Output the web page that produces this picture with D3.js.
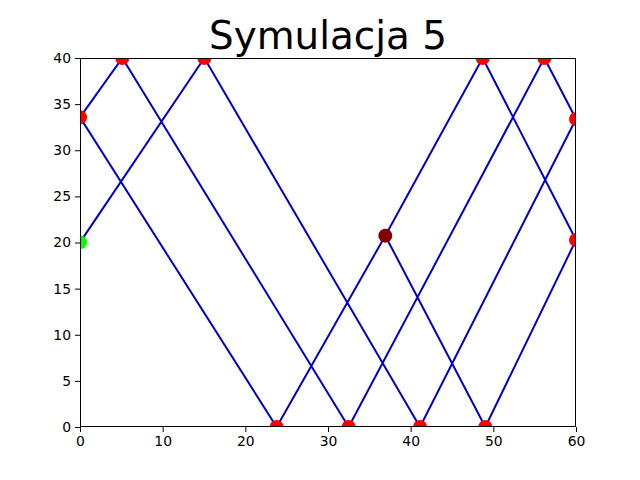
<!DOCTYPE html>
<html>
<head>
<meta charset="utf-8">
<script src="https://cdn.jsdelivr.net/npm/d3@7"></script>
<style>
body { margin: 0; background: #fff; }
svg { display: block; }
text { font-family: "DejaVu Sans", sans-serif; }
</style>
</head>
<body>
<script>
// Path of the ball (x, y) in order
const pathX = [0, 15.04, 41.13, 60, 56.17, 32.5, 5.12, 0, 23.79, 36.93, 48.71, 60, 49.03, 36.93];
const pathY = [20.02, 40, 0, 33.39, 40, 0, 40, 33.57, 0, 20.74, 40, 20.27, 0, 20.74];
// Bounce points (red)
const bounceX = [15.04, 41.13, 60, 56.17, 32.5, 5.12, 0, 23.79, 48.71, 60, 49.03];
const bounceY = [40, 0, 33.39, 40, 0, 40, 33.57, 0, 40, 20.27, 0];
// Start (green) and end (dark red)
const startPt = [0, 20.02];
const endPt = [36.93, 20.74];
const xTicks = [0, 10, 20, 30, 40, 50, 60];
const yTicks = [0, 5, 10, 15, 20, 25, 30, 35, 40];
const title = "Symulacja 5";

const W = 640, H = 480;
const m = { left: 80, right: 64, top: 58, bottom: 53 };
const svg = d3.select("body").append("svg").attr("width", W).attr("height", H);

const x = d3.scaleLinear().domain([0, 60]).range([m.left, W - m.right]);
const y = d3.scaleLinear().domain([0, 40]).range([H - m.bottom, m.top]);

svg.append("defs").append("clipPath").attr("id", "clip")
  .append("rect").attr("x", m.left).attr("y", m.top)
  .attr("width", W - m.left - m.right).attr("height", H - m.top - m.bottom);

const g = svg.append("g").attr("clip-path", "url(#clip)");

const pts = pathX.map((v, i) => [v, pathY[i]]);
g.append("path").datum(pts)
  .attr("d", d3.line().x(d => x(d[0])).y(d => y(d[1])))
  .attr("fill", "none").attr("stroke", "#0000cd").attr("stroke-width", 2)
  .attr("stroke-linejoin", "round");

const r = 7;
g.selectAll("circle.b").data(bounceX.map((v, i) => [v, bounceY[i]])).enter()
  .append("circle").attr("class", "b")
  .attr("cx", d => x(d[0])).attr("cy", d => y(d[1])).attr("r", r).attr("fill", "#ff0000");
g.append("circle").attr("cx", x(startPt[0])).attr("cy", y(startPt[1])).attr("r", r).attr("fill", "#00ff00");
g.append("circle").attr("cx", x(endPt[0])).attr("cy", y(endPt[1])).attr("r", r).attr("fill", "#800000");

// Axes
const xAxis = d3.axisBottom(x).tickValues(xTicks).tickSize(5).tickPadding(4).tickFormat(d3.format("d"));
const yAxis = d3.axisLeft(y).tickValues(yTicks).tickSize(5).tickPadding(4).tickFormat(d3.format("d"));
const gx = svg.append("g").attr("transform", `translate(0,${H - m.bottom})`).call(xAxis);
const gy = svg.append("g").attr("transform", `translate(${m.left},0)`).call(yAxis);
[gx, gy].forEach(a => {
  a.select(".domain").remove();
  a.selectAll("line").attr("stroke", "#000").attr("stroke-width", 1);
  a.selectAll("text").attr("font-size", 13.9).attr("fill", "#000").attr("font-family", "DejaVu Sans");
});

// Frame
svg.append("rect").attr("x", m.left + 0.5).attr("y", m.top + 0.5)
  .attr("width", W - m.left - m.right - 1).attr("height", H - m.top - m.bottom - 1)
  .attr("fill", "none").attr("stroke", "#000").attr("stroke-width", 1);

svg.append("text").attr("x", (m.left + W - m.right) / 2).attr("y", 49)
  .attr("text-anchor", "middle").attr("font-size", 38.9).attr("fill", "#000")
  .text(title);
</script>
</body>
</html>
